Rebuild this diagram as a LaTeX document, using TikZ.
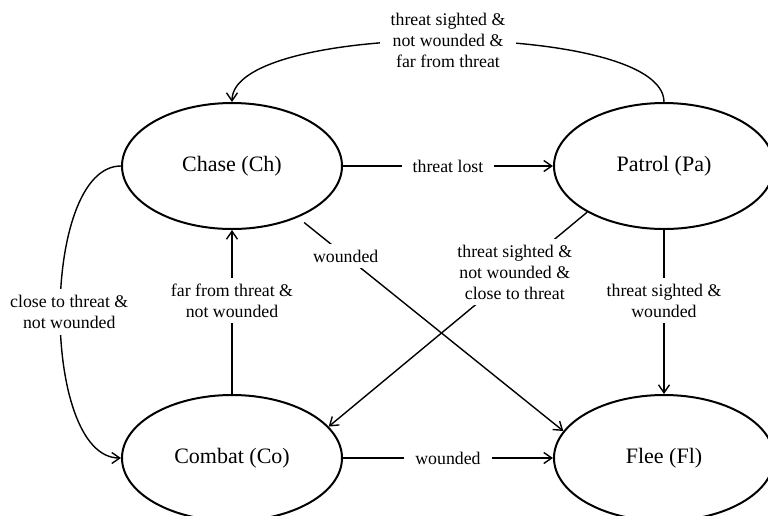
\documentclass[tikz,border=0pt]{standalone}
\usepackage{fontspec}
\setmainfont{Liberation Serif}
\usetikzlibrary{shapes.geometric,arrows.meta}
\begin{document}
\begin{tikzpicture}[x=1pt,y=-1pt,
  state/.style={ellipse,draw,fill=white,line width=2pt,minimum width=220pt,
    minimum height=126pt,inner sep=0pt,font=\fontsize{22}{26}\selectfont},
  trans/.style={line width=1.4pt,
    -{Straight Barb[length=8pt,width=11pt,line width=1.4pt]}},
  lbl/.style={fill=white,inner xsep=11pt,inner ysep=6pt,align=center,
    font=\fontsize{17.8}{21}\selectfont}]
\useasboundingbox (0,0) rectangle (768,515);

% states
\node[state] (ch) at (232,166) {Chase (Ch)};
\node[state] (pa) at (664,166) {Patrol (Pa)};
\node[state] (co) at (232,458) {Combat (Co)};
\node[state] (fl) at (664,458) {Flee (Fl)};

% transitions
\draw[trans] (pa.north) .. controls (664,20) and (232,20) ..
  node[lbl] {threat sighted \&\\ not wounded \&\\ far from threat} (ch.north);
\draw[trans] (ch.east) -- node[lbl] {threat lost} (pa.west);
\draw[trans,shorten <=8pt] (ch.-38) -- node[lbl,pos=0.18] {wounded} (fl.165);
\draw[trans] (pa.211) -- node[lbl,pos=0.28]
  {threat sighted \&\\ not wounded \&\\ close to threat} (co.18);
\draw[trans] (pa.south) -- node[lbl,pos=0.43]
  {threat sighted \&\\ wounded} (fl.north);
\draw[trans] (co.north) -- node[lbl,pos=0.57]
  {far from threat \&\\ not wounded} (ch.south);
\draw[trans] (ch.west) .. controls +(-81,0) and +(-81,0) ..
  node[lbl,xshift=9pt] {close to threat \&\\ not wounded} (co.west);
\draw[trans] (co.east) -- node[lbl] {wounded} (fl.west);
\end{tikzpicture}
\end{document}
